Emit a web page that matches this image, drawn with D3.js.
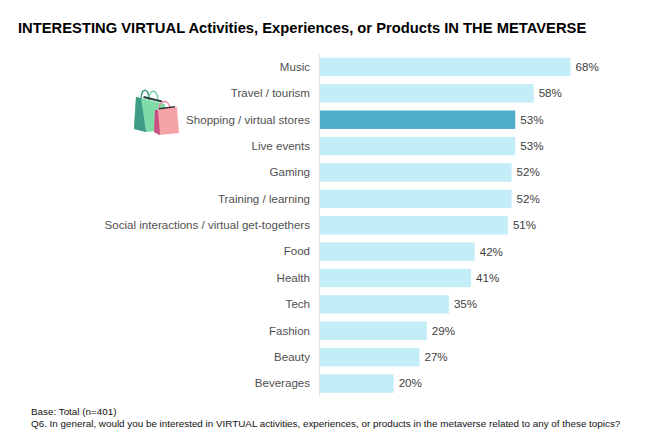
<!DOCTYPE html>
<html>
<head>
<meta charset="utf-8">
<script src="https://cdn.jsdelivr.net/npm/d3@7"></script>
<style>
  html, body { margin: 0; padding: 0; background: #fff; }
  svg { display: block; font-family: "Liberation Sans", Arial, sans-serif; }
</style>
</head>
<body>
<svg width="672" height="431"></svg>
<script>
const categories = ["Music", "Travel / tourism", "Shopping / virtual stores", "Live events", "Gaming",
  "Training / learning", "Social interactions / virtual get-togethers", "Food", "Health", "Tech",
  "Fashion", "Beauty", "Beverages"];
const values = [68, 58, 53, 53, 52, 52, 51, 42, 41, 35, 29, 27, 20];
const highlighted = ["Shopping / virtual stores"];
const footnotes = ["Base: Total (n=401)",
  "Q6. In general, would you be interested in VIRTUAL activities, experiences, or products in the metaverse related to any of these topics?"];

const svg = d3.select("svg");
const rows = categories.map((c, i) => ({ category: c, value: values[i] }));

const x = d3.scaleLinear().domain([0, 68]).range([320, 570.5]);
const y = d3.scaleBand().domain(categories).range([53.8, 396.7]).paddingInner(0.3).paddingOuter(0.15);

svg.append("text")
  .attr("x", 18).attr("y", 33)
  .attr("font-size", 14.75).attr("font-weight", "bold").attr("fill", "#000")
  .text("INTERESTING VIRTUAL Activities, Experiences, or Products IN THE METAVERSE");

svg.selectAll(".bar")
  .data(rows)
  .enter().append("rect")
    .attr("class", "bar")
    .attr("x", x(0))
    .attr("y", d => y(d.category))
    .attr("width", d => x(d.value) - x(0))
    .attr("height", y.bandwidth())
    .attr("fill", d => highlighted.includes(d.category) ? "#50aecb" : "#c3eef7");

// vertical axis line
svg.append("line")
  .attr("x1", 319.5).attr("x2", 319.5)
  .attr("y1", 54).attr("y2", 396)
  .attr("stroke", "#e3e3e3");

svg.selectAll(".cat")
  .data(rows)
  .enter().append("text")
    .attr("class", "cat")
    .attr("x", 310)
    .attr("y", d => y(d.category) + y.bandwidth() / 2 + 3.8)
    .attr("text-anchor", "end")
    .attr("font-size", 11.55)
    .attr("fill", "#505050")
    .text(d => d.category);

svg.selectAll(".val")
  .data(rows)
  .enter().append("text")
    .attr("class", "val")
    .attr("x", d => x(d.value) + 5)
    .attr("y", d => y(d.category) + y.bandwidth() / 2 + 3.9)
    .attr("font-size", 11.6)
    .attr("fill", "#404040")
    .text(d => d.value + "%");

svg.selectAll(".note")
  .data(footnotes)
  .enter().append("text")
    .attr("class", "note")
    .attr("x", 31)
    .attr("y", (d, i) => 415 + i * 11.5)
    .attr("font-size", 9.85)
    .attr("fill", "#111")
    .text(d => d);

// shopping bags icon
const bags = svg.append("g").attr("fill", "none");
bags.append("path").attr("d", "M141 100 C141 87 149 87 149 100").attr("stroke", "#3f9c8c").attr("stroke-width", 1.3);
bags.append("path").attr("d", "M149 100 C149 88 158 88 158 102").attr("stroke", "#6fd0a4").attr("stroke-width", 1.3);
bags.append("path").attr("d", "M136 97 L165 104 L166 130 L146 132 L134 129 Z").attr("fill", "#7fdca9");
bags.append("path").attr("d", "M136 97 L141 98 L146 132 L134 129 Z").attr("fill", "#3e9b86");
bags.append("path").attr("d", "M143 98 L162 102.5 L162 100.5 L144 96 Z").attr("fill", "#26403f");
bags.append("path").attr("d", "M159 109 C159 99 170 99 170 109").attr("stroke", "#e88aa6").attr("stroke-width", 1.3);
bags.append("path").attr("d", "M155 110 L177 107 L179 133 L159 135 L154 132 Z").attr("fill", "#f5a3a7");
bags.append("path").attr("d", "M155 110 L158 110 L160 135 L154 132 Z").attr("fill", "#c94f83");
bags.append("path").attr("d", "M159 109.5 L175 107.5 L175 106 L159 108 Z").attr("fill", "#3a2f3a");
</script>
</body>
</html>
